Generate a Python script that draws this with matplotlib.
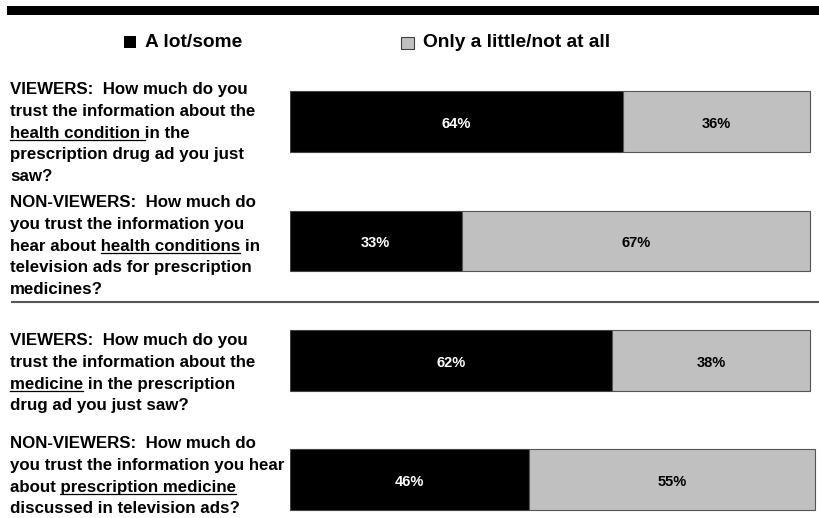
import matplotlib.pyplot as plt
from matplotlib.patches import Rectangle
from matplotlib.lines import Line2D

plt.rcParams['font.family'] = ['Liberation Sans', 'DejaVu Sans']

# data
series = ['A lot/some', 'Only a little/not at all']
a_lot = [64, 33, 62, 46]
little = [36, 67, 38, 55]
# question text, "|" toggles underline
questions = [
    ["VIEWERS:  How much do you", "trust the information about the",
     "|health condition |in the", "prescription drug ad you just", "saw?"],
    ["NON-VIEWERS:  How much do", "you trust the information you",
     "hear about |health conditions| in", "television ads for prescription",
     "medicines?"],
    ["VIEWERS:  How much do you", "trust the information about the",
     "|medicine| in the prescription", "drug ad you just saw?"],
    ["NON-VIEWERS:  How much do", "you trust the information you hear",
     "about |prescription medicine|", "discussed in television ads?"],
]

W, H = 820, 518
fig = plt.figure(figsize=(W / 100, H / 100), dpi=100)


def fx(x):
    return x / W


def fy(y):
    return 1 - y / H


# top rule
fig.patches.append(Rectangle((fx(7), fy(14.5)), fx(820) - fx(7), 9 / H,
                             transform=fig.transFigure, color='black', lw=0))

# legend
fig.patches.append(Rectangle((fx(124), fy(48)), fx(12), 12 / H,
                             transform=fig.transFigure, facecolor='black', lw=0))
fig.text(fx(145), fy(42), series[0], fontsize=13.8, fontweight='bold', va='center')
fig.patches.append(Rectangle((fx(401), fy(49)), fx(13), 12 / H,
                             transform=fig.transFigure, facecolor='#c0c0c0',
                             edgecolor='#404040', lw=0.8))
fig.text(fx(423), fy(42), series[1], fontsize=13.8, fontweight='bold', va='center')

# bars
ax = fig.add_axes([fx(290), 0, fx(530), fy(62)])
pos = list(range(len(a_lot)))
ax.barh(pos, a_lot, height=0.51, color='black', edgecolor='#444444', lw=0.8)
ax.barh(pos, little, left=a_lot, height=0.51, color='#c0c0c0',
        edgecolor='#555555', lw=0.8)
ax.set_xlim(0, 530 / 5.2)
ax.set_ylim(3.32, -0.5)
ax.axis('off')
for i in pos:
    ax.text(a_lot[i] / 2, i + 0.02, f'{a_lot[i]}%', color='white', ha='center',
            va='center', fontsize=10.5, fontweight='bold')
    ax.text(a_lot[i] + little[i] / 2, i + 0.02, f'{little[i]}%', color='black',
            ha='center', va='center', fontsize=10.5, fontweight='bold')

# separator
fig.lines.append(Line2D([fx(12), fx(820)], [fy(301.5), fy(301.5)],
                        transform=fig.transFigure, color='#555555', lw=1.5))

# question labels
renderer = fig.canvas.get_renderer()
fs = 12.2


def width(s):
    if not s:
        return 0
    core = s.rstrip(' ')
    n = len(s) - len(core)
    t = fig.text(0, 0, core + 'x', fontsize=fs, fontweight='bold')
    tx = fig.text(0, 0, 'x', fontsize=fs, fontweight='bold')
    w = t.get_window_extent(renderer).width - tx.get_window_extent(renderer).width
    t.remove()
    tx.remove()
    return w + n * sp_w


t1 = fig.text(0, 0, 'a a', fontsize=fs, fontweight='bold')
t2 = fig.text(0, 0, 'aa', fontsize=fs, fontweight='bold')
sp_w = t1.get_window_extent(renderer).width - t2.get_window_extent(renderer).width
t1.remove()
t2.remove()

tops = [89, 202, 340, 443]
step = 21.8
x0 = 10
for q, top in zip(questions, tops):
    for j, line in enumerate(q):
        base = top + j * step + 5
        parts = line.split('|')
        fig.text(fx(x0), fy(base), ''.join(parts), fontsize=fs,
                 fontweight='bold', va='baseline')
        pre = ''
        for k, p in enumerate(parts):
            if k % 2 == 1:
                xa = x0 + width(pre)
                xb = x0 + width(pre + p)
                fig.lines.append(Line2D([fx(xa), fx(xb)], [fy(base + 2.5)] * 2,
                                        transform=fig.transFigure,
                                        color='black', lw=0.9))
            pre += p

fig.savefig('out.png', dpi=100)
